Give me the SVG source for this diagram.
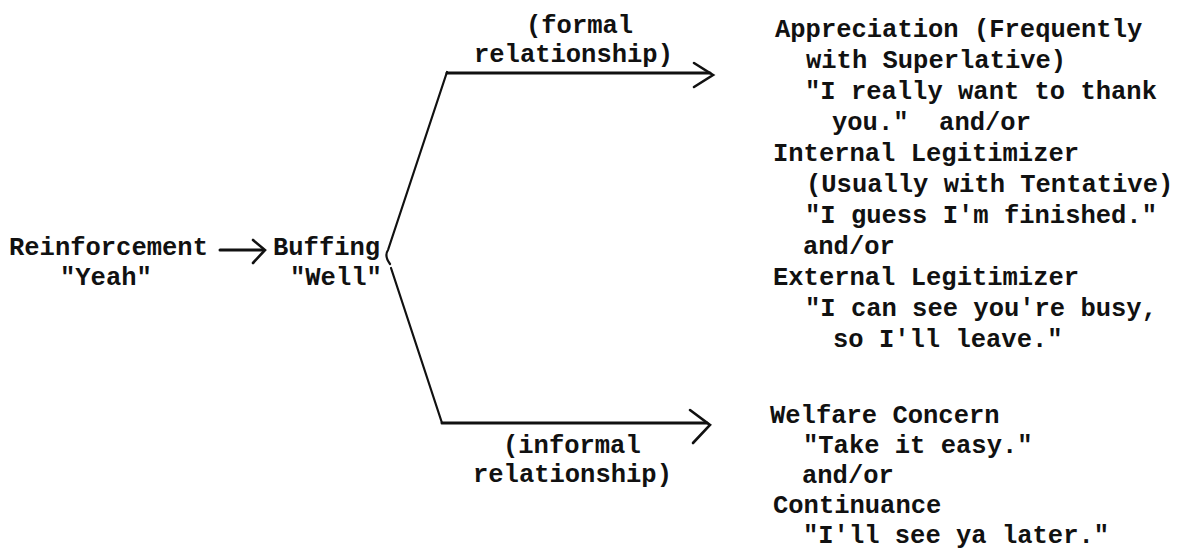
<svg xmlns="http://www.w3.org/2000/svg" width="1177" height="560" viewBox="0 0 1177 560">
  <style>
    text { font-family: "Liberation Mono", "Courier New", monospace; font-size: 25.5px; font-weight: bold; fill: #111; }
    .ln { fill: none; stroke: #111; stroke-width: 2.2; stroke-linecap: round; stroke-linejoin: round; }
    .hl { fill: none; stroke: #111; stroke-width: 3; stroke-linecap: round; }
    .hd { fill: none; stroke: #111; stroke-width: 2.6; stroke-linecap: round; stroke-linejoin: miter; }
  </style>
  <rect width="1177" height="560" fill="#fff"/>

  <g id="reinforcement">
    <text x="9" y="255">Reinforcement</text>
    <text x="60" y="285">"Yeah"</text>
  </g>

  <g id="buffing">
    <text x="273" y="255">Buffing</text>
    <text x="290" y="285">"Well"</text>
  </g>

  <g id="formal-label">
    <text x="526" y="33">(formal</text>
    <text x="474" y="62">relationship)</text>
  </g>

  <g id="informal-label">
    <text x="503" y="453">(informal</text>
    <text x="473" y="482">relationship)</text>
  </g>

  <g id="formal-outcomes">
    <text x="775" y="37">Appreciation (Frequently</text>
    <text x="806" y="68">with Superlative)</text>
    <text x="805" y="99">"I really want to thank</text>
    <text x="832" y="130" xml:space="preserve">you."  and/or</text>
    <text x="773" y="161">Internal Legitimizer</text>
    <text x="806" y="192">(Usually with Tentative)</text>
    <text x="805" y="223">"I guess I'm finished."</text>
    <text x="803" y="254">and/or</text>
    <text x="773" y="285">External Legitimizer</text>
    <text x="805" y="316">"I can see you're busy,</text>
    <text x="833" y="347">so I'll leave."</text>
  </g>

  <g id="informal-outcomes">
    <text x="770" y="423">Welfare Concern</text>
    <text x="803" y="453">"Take it easy."</text>
    <text x="802" y="483">and/or</text>
    <text x="773" y="513">Continuance</text>
    <text x="803" y="543">"I'll see ya later."</text>
  </g>

  <g id="connectors">
    <!-- Reinforcement -> Buffing -->
    <path class="hl" d="M 220 250 L 263 250"/>
    <path class="hd" d="M 253 240 L 265 250 L 253 263"/>
    <!-- formal branch -->
    <path class="ln" d="M 390 264 Q 384 256 388 250 L 447 72"/>
    <path class="hl" d="M 447 73 L 710 73"/>
    <path class="hd" d="M 694 63 L 713 75 L 694 87"/>
    <!-- informal branch -->
    <path class="ln" d="M 391 268 L 442 423"/>
    <path class="hl" d="M 442 423 L 707 423"/>
    <path class="hd" d="M 690 410 L 710 425 L 693 443"/>
  </g>
</svg>
